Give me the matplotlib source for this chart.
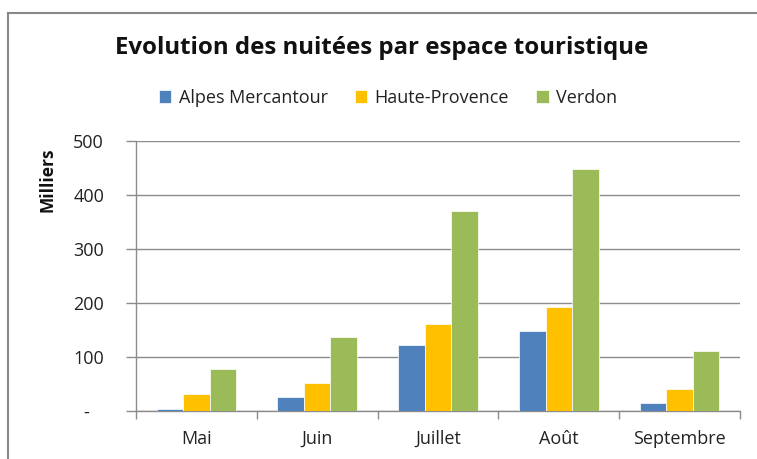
import matplotlib
matplotlib.use("Agg")
import matplotlib.pyplot as plt
import numpy as np
from matplotlib.lines import Line2D

months = ["Mai", "Juin", "Juillet", "Août", "Septembre"]
series_names = ["Alpes Mercantour", "Haute-Provence", "Verdon"]
alpes = [4, 25, 122, 148, 14]
haute = [31, 51, 160, 192, 40]
verdon = [77, 137, 371, 449, 111]
yticks = [0, 100, 200, 300, 400, 500]
ytick_labels = ["-", "100", "200", "300", "400", "500"]
colors = ["#4F81BD", "#FFC000", "#9BBB59"]

plt.rcParams['font.family'] = ['Open Sans', 'DejaVu Sans']

W, H = 757, 459
fig = plt.figure(figsize=(W / 100, H / 100), dpi=100)
ax = fig.add_axes([136 / W, 1 - 410.7 / H, (740 - 136) / W, (410.7 - 141) / H])

x = np.arange(len(months))
bw = 0.22
for i, (vals, c, name) in enumerate(zip([alpes, haute, verdon], colors, series_names)):
    ax.bar(x + (i - 1) * bw, vals, width=bw, color=c, edgecolor='white', linewidth=0.5, label=name, zorder=3)

ax.set_xlim(-0.5, len(months) - 0.5)
ax.set_ylim(0, 500)
ax.set_yticks(yticks)
ax.set_yticklabels([l if l != "-" else "-   " for l in ytick_labels], fontsize=13, color="#222222")
ax.grid(axis='y', color='#8c8c8c', linewidth=1.0, zorder=0)
ax.set_axisbelow(True)

ax.set_xticks(x)
ax.set_xticklabels(months, fontsize=13, color="#222222")
ax.tick_params(axis='x', which='major', length=0, pad=14)
ax.set_xticks(np.arange(len(months) + 1) - 0.5, minor=True)
ax.tick_params(axis='x', which='minor', length=6, color='#8c8c8c', width=1.0)
ax.tick_params(axis='y', length=7, color='#8c8c8c', width=1.0, pad=16)

for s in ['top', 'right']:
    ax.spines[s].set_visible(False)
for s in ['left', 'bottom']:
    ax.spines[s].set_color('#8c8c8c')
    ax.spines[s].set_linewidth(1.0)

fig.text(382 / W, 1 - 48 / H, "Evolution des nuitées par espace touristique",
         fontsize=17.3, fontweight='bold', ha='center', va='center', color='#111111')
fig.text(47 / W, 1 - 180 / H, "Milliers", rotation=90, fontsize=12.5, fontweight='bold',
         ha='center', va='center', color='#111111')

leg = ax.legend(loc='center', bbox_to_anchor=(388 / W, 1 - 98 / H), bbox_transform=fig.transFigure,
                ncol=3, frameon=False, fontsize=13, handlelength=0.7, handleheight=0.7,
                handletextpad=0.4, columnspacing=1.5, labelcolor='#222222')

# chart border
fig.add_artist(Line2D([8 / W, 8 / W], [0, 1 - 13 / H], transform=fig.transFigure, color='#888888', linewidth=1.5))
fig.add_artist(Line2D([8 / W, 1], [1 - 13 / H, 1 - 13 / H], transform=fig.transFigure, color='#888888', linewidth=1.5))

fig.savefig("out.png", dpi=100)
